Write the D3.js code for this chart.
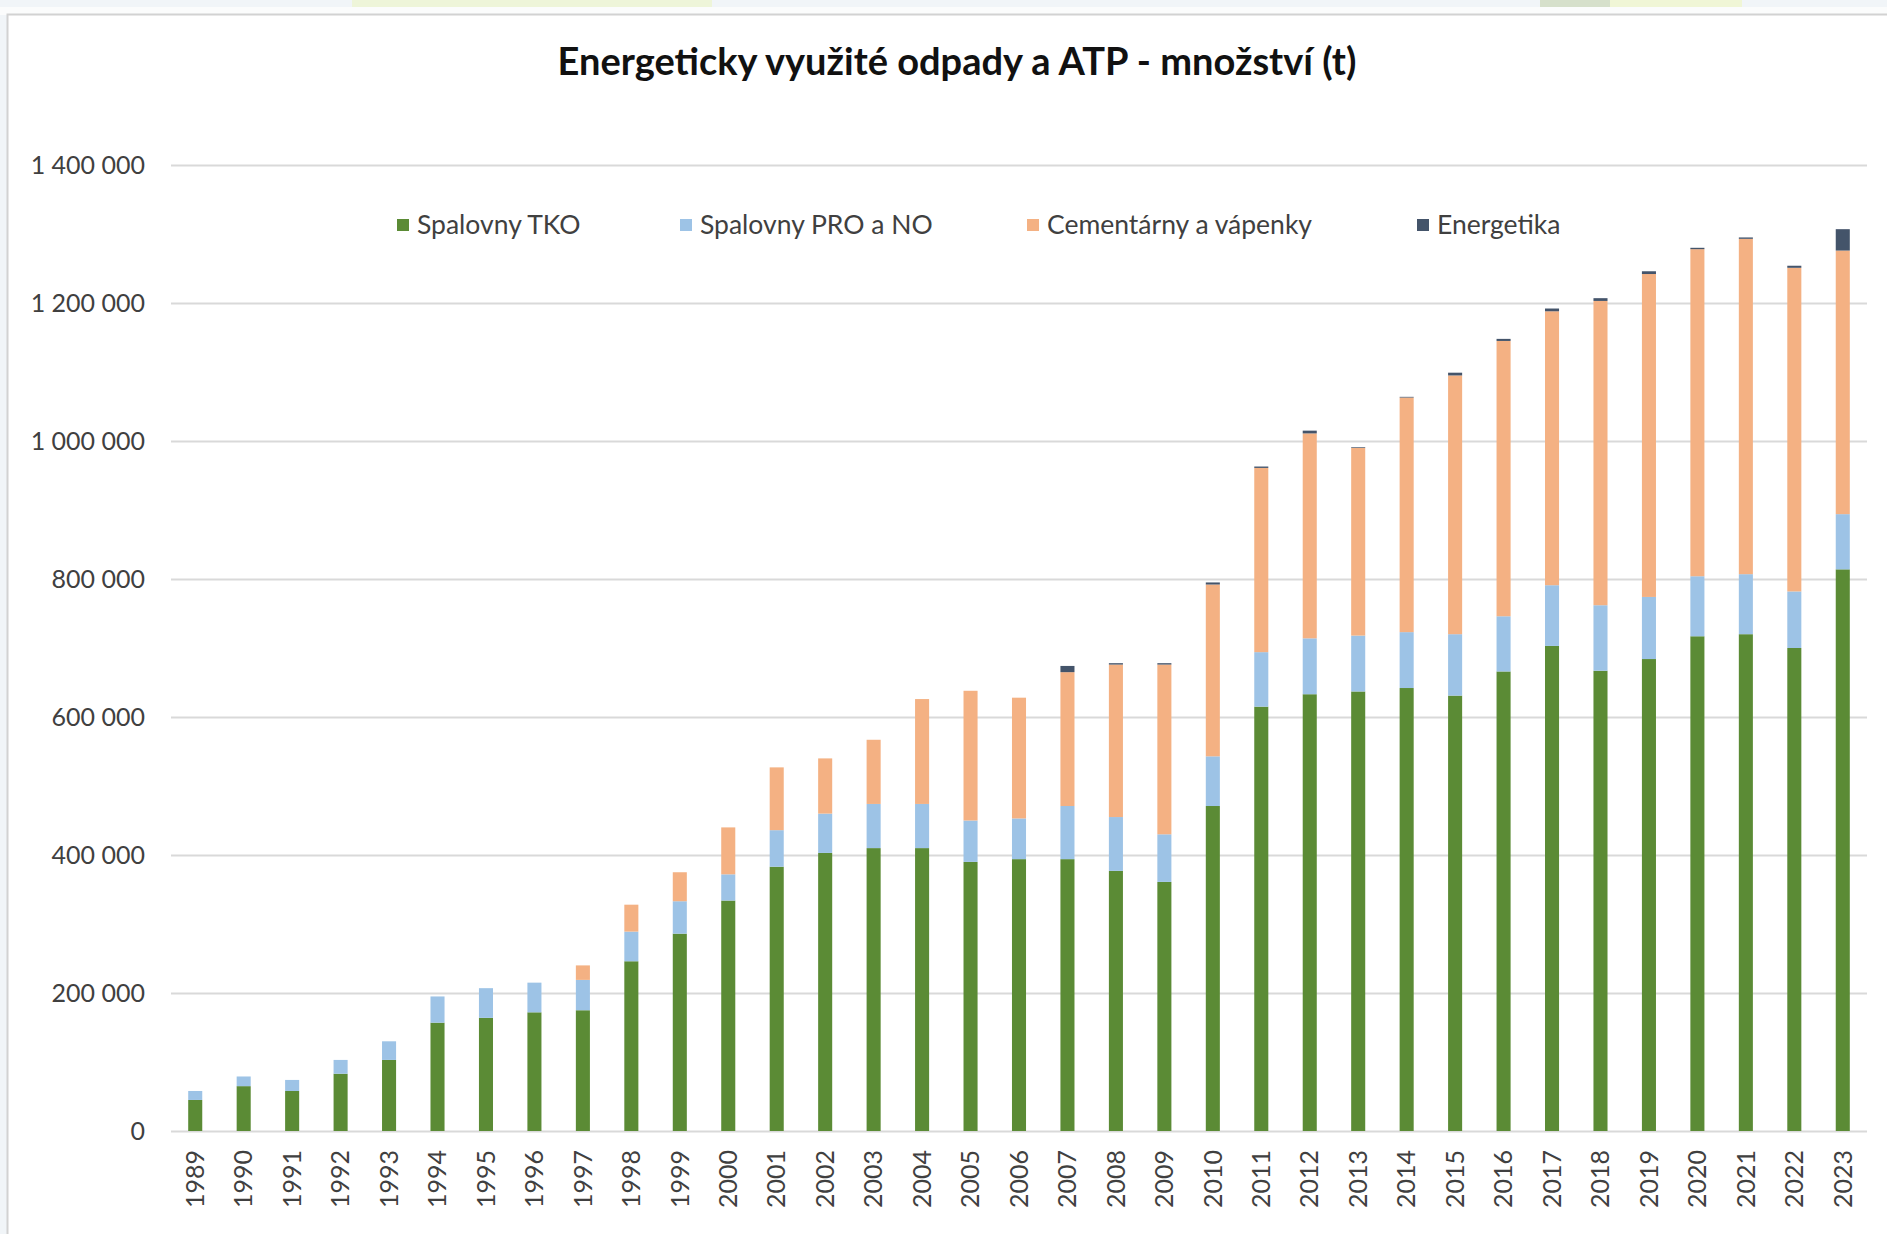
<!DOCTYPE html>
<html>
<head>
<meta charset="utf-8">
<script src="https://cdn.jsdelivr.net/npm/d3@7"></script>
<style>
  body { margin: 0; background: #f1f5f8; }
  svg { display: block; }
</style>
</head>
<body>
<div id="chart"></div>
<script>
// Data (tonnes)
const years = d3.range(1989, 2024).map(String);
const seriesNames = ["Spalovny TKO", "Spalovny PRO a NO", "Cementárny a vápenky", "Energetika"];
const spalovnyTKO = [45000, 65000, 58000, 83000, 103000, 157000, 164000, 172000, 175000, 246000,
    286000, 334000, 383000, 403000, 410000, 410000, 390000, 394000, 394000, 377000,
    361000, 471000, 615000, 633000, 637000, 642000, 631000, 666000, 703000, 667000,
    684000, 717000, 720000, 700000, 814000];
const spalovnyPRO = [13000, 14000, 16000, 20000, 27000, 38000, 43000, 43000, 44000, 43000,
    47000, 38000, 53000, 57000, 64000, 64000, 60000, 59000, 77000, 78000,
    69000, 72000, 79000, 81000, 81000, 81000, 89000, 80000, 88000, 95000,
    90000, 87000, 87000, 82000, 80000];
const cementarny = [0, 0, 0, 0, 0, 0, 0, 0, 21000, 39000,
    42000, 68000, 91000, 80000, 93000, 152000, 188000, 175000, 194000, 221000,
    246000, 249000, 267000, 297000, 272000, 340000, 375000, 399000, 397000, 441000,
    468000, 474000, 486000, 469000, 382000];
const energetika = [0, 0, 0, 0, 0, 0, 0, 0, 0, 0,
    0, 0, 0, 0, 0, 0, 0, 0, 9000, 2000,
    2000, 3000, 2000, 4000, 1000, 1000, 4000, 3000, 4000, 4000,
    4000, 2000, 2000, 3000, 31000];
const yTicks = [0, 200000, 400000, 600000, 800000, 1000000, 1200000, 1400000];
const colors = ["#5b8b35", "#9dc3e6", "#f4b183", "#44546a"];

const W = 1887, H = 1234;
const font = "Lato, 'Open Sans', sans-serif";

const rows = years.map((y, i) => ({
    year: y,
    "Spalovny TKO": spalovnyTKO[i],
    "Spalovny PRO a NO": spalovnyPRO[i],
    "Cementárny a vápenky": cementarny[i],
    "Energetika": energetika[i]
}));

const svg = d3.select("#chart")
    .append("svg")
    .attr("width", W)
    .attr("height", H);

// page background bits above the card
svg.append("rect").attr("x", 0).attr("y", 0).attr("width", W).attr("height", H).attr("fill", "#f1f5f8");
svg.append("rect").attr("x", 352).attr("y", 0).attr("width", 360).attr("height", 7).attr("fill", "#eef5d9");
svg.append("rect").attr("x", 1540).attr("y", 0).attr("width", 70).attr("height", 7).attr("fill", "#d6e0cb");
svg.append("rect").attr("x", 1610).attr("y", 0).attr("width", 132).attr("height", 7).attr("fill", "#f0f6d6");
svg.append("rect").attr("x", 0).attr("y", 7).attr("width", W).attr("height", 8).attr("fill", "#fbfcfc");

// white card
svg.append("rect")
    .attr("x", 7.5).attr("y", 14.5)
    .attr("width", W + 10).attr("height", H)
    .attr("fill", "#ffffff")
    .attr("stroke", "#d2d2d2")
    .attr("stroke-width", 2);

// Title
svg.append("text")
    .attr("x", 957)
    .attr("y", 75)
    .attr("text-anchor", "middle")
    .style("font-family", font)
    .style("font-weight", "bold")
    .style("font-size", "38px")
    .style("fill", "#111")
    .text("Energeticky využité odpady a ATP - množství (t)");

// Scales
const x = d3.scaleBand()
    .domain(years)
    .range([171, 1867])
    .paddingInner(0.71)
    .paddingOuter(0.355);

const y = d3.scaleLinear()
    .domain([0, 1400000])
    .range([1131, 165]);

const fmt = d3.formatLocale({decimal: ",", thousands: " ", grouping: [3], currency: ["", " Kč"]}).format(",d");

// Gridlines
svg.append("g")
    .selectAll("line")
    .data(yTicks)
    .enter().append("line")
    .attr("x1", 171)
    .attr("x2", 1867)
    .attr("y1", d => Math.round(y(d)) + 0.5)
    .attr("y2", d => Math.round(y(d)) + 0.5)
    .attr("stroke", "#d9d9d9")
    .attr("stroke-width", 2);

// Y axis labels
const yAxis = svg.append("g")
    .attr("transform", "translate(145,0)")
    .call(d3.axisLeft(y).tickValues(yTicks).tickFormat(fmt).tickSize(0).tickPadding(0));
yAxis.select(".domain").remove();
yAxis.selectAll("text")
    .style("font-family", font)
    .style("font-size", "25px")
    .style("fill", "#404040");

// X axis labels
const xAxis = svg.append("g")
    .attr("transform", "translate(0,1150)")
    .call(d3.axisBottom(x).tickSize(0).tickPadding(0));
xAxis.select(".domain").remove();
xAxis.selectAll("text")
    .attr("transform", "rotate(-90)")
    .attr("x", 0)
    .attr("y", 0)
    .attr("dy", "0.35em")
    .style("text-anchor", "end")
    .style("font-family", font)
    .style("font-size", "25px")
    .style("fill", "#404040");

// Stacked bars
const stack = d3.stack().keys(seriesNames);
const layers = stack(rows);

svg.append("g")
    .selectAll("g")
    .data(layers)
    .enter().append("g")
    .attr("fill", (d, i) => colors[i])
    .selectAll("rect")
    .data(d => d.filter(p => p[1] > p[0]))
    .enter().append("rect")
    .attr("x", d => x(d.data.year))
    .attr("width", x.bandwidth())
    .attr("y", d => y(d[1]))
    .attr("height", d => y(d[0]) - y(d[1]));

// Legend
const legendX = [397, 680, 1027, 1417];
const legend = svg.selectAll(".legend")
    .data(seriesNames)
    .enter().append("g")
    .attr("class", "legend")
    .attr("transform", (d, i) => `translate(${legendX[i]},225)`);

legend.append("rect")
    .attr("x", 0)
    .attr("y", -6)
    .attr("width", 12)
    .attr("height", 12)
    .attr("fill", (d, i) => colors[i]);

legend.append("text")
    .attr("x", 20)
    .attr("y", 0)
    .attr("dy", "0.35em")
    .style("font-family", font)
    .style("font-size", "26.5px")
    .style("fill", "#404040")
    .text(d => d);
</script>
</body>
</html>
